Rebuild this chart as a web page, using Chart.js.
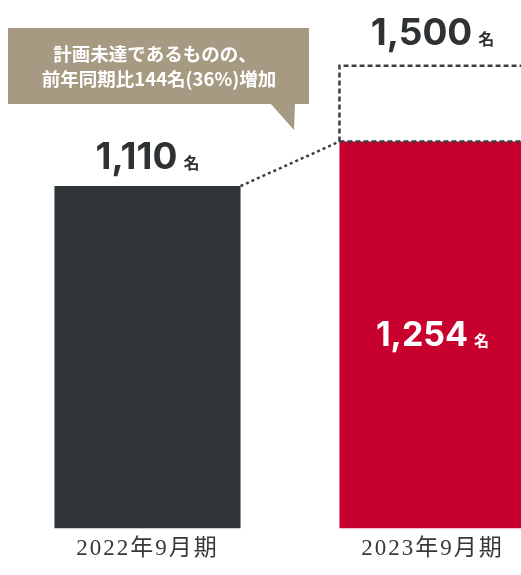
<!DOCTYPE html>
<html lang="ja">
  <head>
    <meta charset="UTF-8" />
    <title>2023年9月期 人員数</title>
    <script src="https://cdn.jsdelivr.net/npm/chart.js@4.4.0/dist/chart.umd.min.js"></script>
    <style>
      html, body { margin: 0; padding: 0; background: #fff; overflow: hidden; }
      .chart { position: relative; width: 580px; height: 575px; }
    </style>
  </head>
  <body>
    <div class="chart">
      <canvas id="myChart"></canvas>
    </div>
    <script>
      const categories = ['2022年9月期', '2023年9月期'];
      const actual = [1110, 1254];
      const target = [null, 1500];
      const unit = '名';
      const calloutLines = ['計画未達であるものの、', '前年同期比144名(36%)増加'];

      const numFmt = v => v.toLocaleString('en-US');

      // draws "1,110 名" style label centered at cx, baseline y
      function drawValue(ctx, value, cx, y, size, unitSize, color) {
        const num = numFmt(value);
        ctx.font = `bold ${size}px Inter, "Noto Sans", sans-serif`;
        const wNum = ctx.measureText(num).width;
        ctx.font = `bold ${unitSize}px "Noto Sans CJK JP", sans-serif`;
        const wUnit = ctx.measureText(unit).width;
        const gap = 6;
        let x = cx - (wNum + gap + wUnit) / 2;
        ctx.fillStyle = color;
        ctx.textAlign = 'left';
        ctx.textBaseline = 'alphabetic';
        ctx.font = `bold ${size}px Inter, "Noto Sans", sans-serif`;
        ctx.fillText(num, x, y);
        ctx.font = `bold ${unitSize}px "Noto Sans CJK JP", sans-serif`;
        ctx.fillText(unit, x + wNum + gap, y);
      }

      const spacing = {
        id: 'spacing',
        beforeDraw(chart) { chart.ctx.letterSpacing = '2px'; },
        beforeDatasetsDraw(chart) { chart.ctx.letterSpacing = '0px'; }
      };

      const extras = {
        id: 'extras',
        afterDatasetsDraw(chart) {
          const ctx = chart.ctx;
          const bars = chart.getDatasetMeta(1).data;
          const goal = chart.getDatasetMeta(0).data;
          ctx.save();

          // dashed target box
          const g = goal[1], b = bars[1];
          const gl = g.x - g.width / 2, gr = g.x + g.width / 2;
          ctx.strokeStyle = '#3a3e41';
          ctx.lineWidth = 2.5;
          ctx.setLineDash([5, 3]);
          ctx.beginPath();
          ctx.moveTo(gl, b.y);
          ctx.lineTo(gl, g.y);
          ctx.lineTo(gr, g.y);
          ctx.lineTo(gr, b.y);
          ctx.moveTo(gl, b.y);
          ctx.lineTo(gr, b.y);
          ctx.stroke();

          // connector between the bar tops
          const a = bars[0];
          ctx.setLineDash([3, 3]);
          ctx.beginPath();
          ctx.moveTo(a.x + a.width / 2, a.y);
          ctx.lineTo(b.x - b.width / 2, b.y);
          ctx.stroke();
          ctx.setLineDash([]);

          // value labels
          drawValue(ctx, actual[0], a.x, a.y - 17, 37, 16, '#2e3235');
          drawValue(ctx, target[1], g.x, g.y - 21, 37, 16, '#2e3235');
          drawValue(ctx, actual[1], b.x, (b.y + b.base) / 2 + 11, 34, 15, '#ffffff');

          // callout
          ctx.fillStyle = '#a69a82';
          ctx.fillRect(8, 28, 301, 76);
          ctx.beginPath();
          ctx.moveTo(270, 103);
          ctx.lineTo(295, 103);
          ctx.lineTo(294, 130);
          ctx.closePath();
          ctx.fill();
          ctx.fillStyle = '#ffffff';
          ctx.font = 'bold 18.5px "Noto Sans CJK JP", sans-serif';
          ctx.textAlign = 'center';
          ctx.textBaseline = 'middle';
          ctx.fillText(calloutLines[0], 155, 54);
          ctx.fillText(calloutLines[1], 159, 79);
          ctx.restore();
        }
      };

      const ctx = document.getElementById('myChart').getContext('2d');
      const myChart = new Chart(ctx, {
        type: 'bar',
        data: {
          labels: categories,
          datasets: [
            {
              label: '計画',
              data: target,
              backgroundColor: 'rgba(255, 255, 255, 0)',
              borderWidth: 0,
              order: 2
            },
            {
              label: '実績',
              data: actual,
              backgroundColor: ['#2f3437', '#c8002d'],
              borderWidth: 0,
              order: 1
            }
          ]
        },
        options: {
          responsive: true,
          maintainAspectRatio: false,
          animation: false,
          layout: { padding: { left: 5, right: 5, top: 4, bottom: 5 } },
          datasets: {
            bar: { grouped: false, barPercentage: 0.653, categoryPercentage: 1 }
          },
          plugins: {
            legend: { display: false },
            tooltip: { enabled: false }
          },
          scales: {
            x: {
              grid: { display: false, drawTicks: false },
              border: { display: false },
              ticks: {
                padding: 7,
                color: '#383838',
                font: { family: '"Liberation Serif", "Noto Sans CJK JP", serif', size: 23 }
              }
            },
            y: { display: false, min: 0, max: 1700 }
          }
        },
        plugins: [spacing, extras]
      });
    </script>
  </body>
</html>
